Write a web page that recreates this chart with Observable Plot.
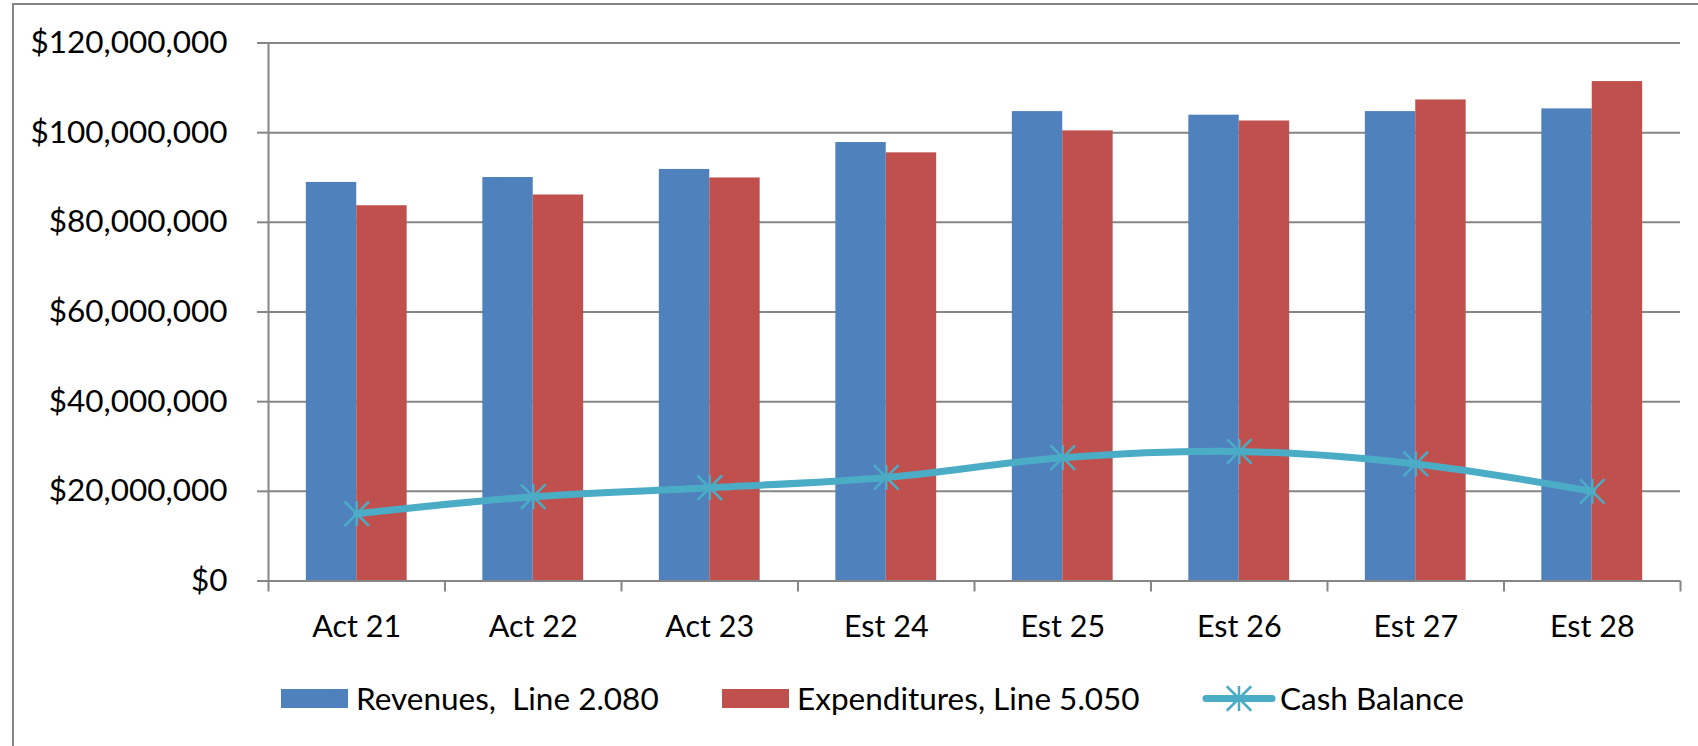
<!DOCTYPE html>
<html>
<head>
<meta charset="utf-8">
<script src="https://cdn.jsdelivr.net/npm/d3@7"></script>
<script src="https://cdn.jsdelivr.net/npm/@observablehq/plot@0.6"></script>
<style>
  html, body { margin: 0; padding: 0; background: #ffffff; overflow: hidden; }
  body { width: 1698px; height: 746px; position: relative; font-family: Lato, "Open Sans", sans-serif; }
  #frame { position: absolute; left: 12px; top: 3px; width: 1800px; height: 900px; border: 2px solid #868686; box-sizing: border-box; }
  #chart { position: absolute; left: 0; top: 0; }
  #legend { position: absolute; left: 0; top: 683px; width: 1698px; height: 31px; }
  .item { position: absolute; top: 0; height: 31px; display: flex; align-items: center; white-space: pre; font-size: 31.5px; line-height: 1; color: #000; }
  .swatch { width: 67px; height: 19px; margin-right: 8px; }
</style>
</head>
<body>
<div id="frame"></div>
<div id="chart"></div>
<div id="legend"></div>
<script>
// Fiscal years: actuals then estimates
const categories = ["Act 21", "Act 22", "Act 23", "Est 24", "Est 25", "Est 26", "Est 27", "Est 28"];
const revenues = [88900000, 90000000, 91800000, 97800000, 104700000, 103900000, 104700000, 105300000];
const expenditures = [83700000, 86100000, 89900000, 95500000, 100400000, 102600000, 107300000, 111400000];
const cashBalance = [15000000, 18800000, 20800000, 23100000, 27500000, 28900000, 26100000, 20000000];
const yTicks = [0, 20000000, 40000000, 60000000, 80000000, 100000000, 120000000];
const seriesNames = ["Revenues,  Line 2.080", "Expenditures, Line 5.050", "Cash Balance"];

const blue = "#4f81bd";
const red = "#c0504d";
const teal = "#4bacc6";
const gray = "#868686";

// Each category occupies one unit slot on x; two bars sit side by side around its centre.
const rows = categories.map((category, slot) => ({
  category,
  slot,
  revenue: revenues[slot],
  expenditure: expenditures[slot],
  cash: cashBalance[slot]
}));
const barShare = 0.2856;
const centre = d => d.slot + 0.5;

// Asterisk-style marker: vertical stroke plus an X
const star = {
  draw(context, size) {
    const r = Math.sqrt(size / Math.PI);
    const d = r * 0.98;
    context.moveTo(0, -r); context.lineTo(0, r);
    context.moveTo(-d, -d); context.lineTo(d, d);
    context.moveTo(-d, d); context.lineTo(d, -d);
  }
};

const chart = Plot.plot({
  width: 1698,
  height: 660,
  marginLeft: 268,
  marginRight: 18,
  marginTop: 42.5,
  marginBottom: 79.5,
  style: { background: "transparent", fontFamily: "Lato, 'Open Sans', sans-serif", fontSize: "30px", color: "#000", overflow: "visible" },
  x: { type: "linear", domain: [0, categories.length] },
  y: { domain: [0, 120000000] },
  marks: [
    Plot.gridY(yTicks, { stroke: gray, strokeOpacity: 1, strokeWidth: 2 }),
    Plot.rectY(rows, { x1: d => centre(d) - barShare, x2: centre, y: "revenue", fill: blue }),
    Plot.rectY(rows, { x1: centre, x2: d => centre(d) + barShare, y: "expenditure", fill: red }),
    Plot.ruleY([0], { stroke: gray, strokeWidth: 2 }),
    Plot.ruleX([0], { stroke: gray, strokeWidth: 2 }),
    Plot.axisY({ ticks: yTicks, tickSize: 11, tickPadding: 30, tickFormat: d3.format("$,.0f"), stroke: gray, strokeWidth: 2, fill: "#000", fontSize: 31.5, label: null }),
    Plot.axisX({ ticks: d3.range(categories.length + 1), tickSize: 11, tickFormat: () => "", stroke: gray, strokeWidth: 2, label: null }),
    Plot.axisX({ ticks: categories.map((_, i) => i + 0.5), tickSize: 0, tickPadding: 34, tickFormat: v => categories[Math.floor(v)], fill: "#000", fontSize: 30.5, label: null }),
    Plot.line(rows, { x: centre, y: "cash", stroke: teal, strokeWidth: 7, curve: "catmull-rom", strokeLinecap: "round", strokeLinejoin: "round" }),
    Plot.dot(rows, { x: centre, y: "cash", symbol: star, r: 12.5, stroke: teal, strokeWidth: 2.5, fill: "none" })
  ]
});
document.getElementById("chart").appendChild(chart);

// Legend below the plot
const legend = document.getElementById("legend");
const swatchColors = [blue, red];
const itemLefts = [281, 722, 1202];
seriesNames.forEach((name, i) => {
  const item = document.createElement("div");
  item.className = "item";
  item.style.left = itemLefts[i] + "px";
  if (i < 2) {
    const sw = document.createElement("span");
    sw.className = "swatch";
    sw.style.background = swatchColors[i];
    item.appendChild(sw);
  } else {
    const ns = "http://www.w3.org/2000/svg";
    const svg = document.createElementNS(ns, "svg");
    svg.setAttribute("width", 74);
    svg.setAttribute("height", 31);
    svg.style.marginRight = "4px";
    const ln = document.createElementNS(ns, "line");
    ln.setAttribute("x1", 4); ln.setAttribute("x2", 70);
    ln.setAttribute("y1", 15.5); ln.setAttribute("y2", 15.5);
    ln.setAttribute("stroke", teal); ln.setAttribute("stroke-width", 7);
    ln.setAttribute("stroke-linecap", "round");
    svg.appendChild(ln);
    const mk = document.createElementNS(ns, "path");
    const path = d3.path();
    star.draw(path, 12.5 * 12.5 * Math.PI);
    mk.setAttribute("d", path.toString());
    mk.setAttribute("transform", "translate(37,15.5)");
    mk.setAttribute("stroke", teal); mk.setAttribute("stroke-width", 2.5); mk.setAttribute("fill", "none");
    svg.appendChild(mk);
    item.appendChild(svg);
  }
  const label = document.createElement("span");
  label.textContent = name;
  item.appendChild(label);
  legend.appendChild(item);
});
</script>
</body>
</html>
